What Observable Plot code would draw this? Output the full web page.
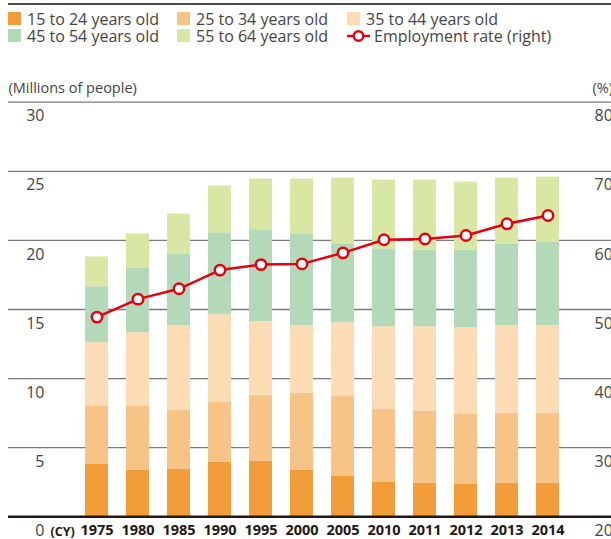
<!DOCTYPE html>
<html>
<head>
<meta charset="utf-8">
<script src="https://cdn.jsdelivr.net/npm/d3@7"></script>
<script src="https://cdn.jsdelivr.net/npm/@observablehq/plot@0.6"></script>
<style>
  body { margin: 0; background: #fff; font-family: "Open Sans", sans-serif; color: #444; }
  #wrap { position: relative; width: 611px; height: 539px; overflow: hidden; }
  #topline { position: absolute; left: 8px; right: 0; top: 3px; height: 2px; background: #4a4a4a; }
  .lg { position: absolute; font-size: 16px; line-height: 15px; white-space: nowrap; color: #444; }
  .sw { position: absolute; width: 13px; height: 13px; }
  #chart { position: absolute; left: 0; top: 50px; }
</style>
</head>
<body>
<div id="wrap">
  <div id="topline"></div>
  <div id="legend"></div>
  <div id="chart"></div>
</div>
<script>
const years = ["1975","1980","1985","1990","1995","2000","2005","2010","2011","2012","2013","2014"];
const groups = ["15 to 24 years old","25 to 34 years old","35 to 44 years old","45 to 54 years old","55 to 64 years old"];
const colors = ["#f29d3a","#f8c387","#fcdcb5","#b3d9b8","#d8e8a4"];
const age15to24 = [3.79,3.36,3.43,3.94,4.01,3.36,2.92,2.49,2.42,2.35,2.42,2.42];
const age25to34 = [4.19,4.62,4.26,4.33,4.76,5.56,5.78,5.27,5.20,5.05,5.05,5.05];
const age35to44 = [4.62,5.34,6.14,6.35,5.35,4.91,5.34,5.99,6.13,6.28,6.36,6.36];
const age45to54 = [4.04,4.69,5.20,5.93,6.65,6.64,5.71,5.64,5.56,5.63,5.92,6.06];
const age55to64 = [2.17,2.46,2.88,3.39,3.67,3.97,4.76,4.98,5.06,4.91,4.76,4.69];
const employmentRate = [48.9,51.5,53.0,55.7,56.5,56.6,58.2,60.1,60.2,60.7,62.4,63.6];
const leftTicks = [0,5,10,15,20,25,30];
const rightTicks = [20,30,40,50,60,70,80];
const lineLabel = "Employment rate (right)";
const lineColor = "#e60012";

// right axis (%) maps onto left axis (millions): 20% -> 0, 80% -> 30
const rateToY = r => (r - 20) / 2;

const series = [age15to24, age25to34, age35to44, age45to54, age55to64];
const stacked = [];
groups.forEach((g, gi) => years.forEach((y, i) => stacked.push({year: y, group: g, value: series[gi][i]})));
const rateData = years.map((y, i) => ({year: y, rate: employmentRate[i]}));

// Legend (HTML)
const legend = document.getElementById("legend");
const colX = [8, 177, 347];
const rowTop = [12, 29];
const items = groups.map((g, i) => ({label: g, color: colors[i]})).concat([{label: lineLabel, line: true}]);
items.forEach((it, i) => {
  const col = i % 3, row = Math.floor(i / 3);
  if (it.line) {
    const ns = "http://www.w3.org/2000/svg";
    const s = document.createElementNS(ns, "svg");
    s.setAttribute("width", 24); s.setAttribute("height", 14);
    s.style.position = "absolute"; s.style.left = colX[col] + "px"; s.style.top = (rowTop[row] - 0.5) + "px";
    s.innerHTML = `<line x1="0" y1="7" x2="23" y2="7" stroke="${lineColor}" stroke-width="2.5"/><circle cx="11.5" cy="7" r="4.8" fill="#fff" stroke="${lineColor}" stroke-width="2.5"/>`;
    legend.appendChild(s);
    const t = document.createElement("div");
    t.className = "lg"; t.textContent = it.label;
    t.style.left = (colX[col] + 27) + "px"; t.style.top = (rowTop[row] - 0.3) + "px";
    legend.appendChild(t);
  } else {
    const sw = document.createElement("div");
    sw.className = "sw"; sw.style.background = it.color;
    sw.style.left = colX[col] + "px"; sw.style.top = rowTop[row] + "px";
    legend.appendChild(sw);
    const t = document.createElement("div");
    t.className = "lg"; t.textContent = it.label;
    t.style.left = (colX[col] + 19) + "px"; t.style.top = (rowTop[row] - 0.3) + "px";
    legend.appendChild(t);
  }
});

const plot = Plot.plot({
  width: 611,
  height: 489,
  marginLeft: 8,
  marginRight: 0,
  marginTop: 51.7,
  marginBottom: 22.7,
  style: {fontFamily: "Open Sans", fontSize: "16px", color: "#444", background: "transparent", overflow: "hidden"},
  x: {type: "band", domain: years, range: [75, 569.2], paddingInner: 0.44, paddingOuter: 0.22, label: null},
  y: {domain: [0, 30], label: null, axis: null},
  color: {domain: groups, range: colors},
  marks: [
    Plot.ruleY(leftTicks.filter(d => d > 0), {stroke: "#7a7a7a", strokeWidth: 1.3}),
    Plot.barY(stacked, {x: "year", y: "value", fill: "group"}),
    Plot.ruleY([0], {stroke: "#231815", strokeWidth: 2.6}),
    Plot.line(rateData, {x: "year", y: d => rateToY(d.rate), stroke: lineColor, strokeWidth: 2.5}),
    Plot.dot(rateData, {x: "year", y: d => rateToY(d.rate), r: 5.2, fill: "#fff", stroke: lineColor, strokeWidth: 2.5}),
    Plot.text(leftTicks, {y: d => d, text: d => String(d), frameAnchor: "left", textAnchor: "end", lineAnchor: "middle", dx: 36, dy: 14, fontSize: 16, fill: "#444"}),
    Plot.text(rightTicks, {y: d => rateToY(d), text: d => String(d), frameAnchor: "right", textAnchor: "start", lineAnchor: "middle", dx: -17, dy: 14, fontSize: 16, fill: "#444"}),
    Plot.axisX({tickSize: 0, tickPadding: 8, fontSize: 14.5, fontWeight: "bold", fill: "#231815", label: null}),
    Plot.text(["(CY)"], {frameAnchor: "bottom-left", textAnchor: "start", lineAnchor: "middle", dx: 42, dy: 15, fontSize: 12.5, fontWeight: "bold", fill: "#231815"}),
    Plot.text(["(Millions of people)"], {frameAnchor: "top-left", textAnchor: "start", lineAnchor: "middle", dx: 0, dy: -14, fontSize: 14.5, fill: "#444"}),
    Plot.text(["(%)"], {frameAnchor: "top-right", textAnchor: "start", lineAnchor: "middle", dx: -19, dy: -14, fontSize: 14.5, fill: "#444"})
  ]
});
document.getElementById("chart").appendChild(plot);
</script>
</body>
</html>
